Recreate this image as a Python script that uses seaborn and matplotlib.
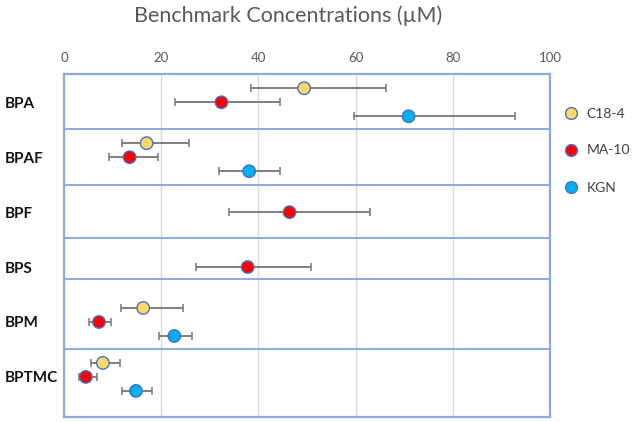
import numpy as np
import pandas as pd
import matplotlib
matplotlib.use("Agg")
import matplotlib.pyplot as plt
from matplotlib.lines import Line2D
import seaborn as sns

sns.set_style("white")
plt.rcParams["font.family"] = ["Lato", "DejaVu Sans"]

compounds = ["BPA", "BPAF", "BPF", "BPS", "BPM", "BPTMC"]
cells = ["C18-4", "MA-10", "KGN"]

# benchmark concentration (uM) with lower / upper bounds, None = not tested
c18_mid = [49.4, 17.0, None, None, 16.3, 8.0]
c18_lo = [38.4, 11.9, None, None, 11.7, 5.6]
c18_hi = [66.3, 25.7, None, None, 24.4, 11.6]
ma10_mid = [32.4, 13.5, 46.4, 37.8, 7.2, 4.5]
ma10_lo = [22.8, 9.2, 34.0, 27.1, 5.1, 3.0]
ma10_hi = [44.4, 19.3, 62.9, 50.9, 9.7, 6.8]
kgn_mid = [70.9, 38.1, None, None, 22.7, 14.8]
kgn_lo = [59.7, 31.8, None, None, 19.5, 12.0]
kgn_hi = [92.9, 44.4, None, None, 26.4, 18.1]

colors = {"C18-4": "#FFD966", "MA-10": "#FF0000", "KGN": "#00B0F0"}
offsets = {"C18-4": -0.255, "MA-10": 0.0, "KGN": 0.255}

rows = []
for cell, mid, lo, hi in [("C18-4", c18_mid, c18_lo, c18_hi),
                          ("MA-10", ma10_mid, ma10_lo, ma10_hi),
                          ("KGN", kgn_mid, kgn_lo, kgn_hi)]:
    for i, comp in enumerate(compounds):
        if mid[i] is None:
            continue
        rows.append({"compound": comp, "cell": cell, "bmc": mid[i], "lo": lo[i], "hi": hi[i],
                     "ypos": i + offsets[cell]})
df = pd.DataFrame(rows)

fig = plt.figure(figsize=(6.33, 4.22), dpi=100)
ax = fig.add_axes([64 / 633, 1 - 417 / 422, (550 - 64) / 633, (417 - 74) / 422])

edge = "#4472C4"
frame = "#8EA9DB"

ax.errorbar(df["bmc"], df["ypos"], xerr=[df["bmc"] - df["lo"], df["hi"] - df["bmc"]],
            fmt="none", ecolor="#7F7F7F", elinewidth=1.4, capsize=3, capthick=1.2, zorder=2)
sns.scatterplot(data=df, x="bmc", y="ypos", hue="cell", hue_order=cells, palette=colors,
                s=80, edgecolor=edge, linewidth=1.0, legend=False, zorder=3, ax=ax)

ax.set_xlim(0, 100)
ax.set_ylim(5.73, -0.515)
ax.set_xticks([0, 20, 40, 60, 80, 100])
ax.xaxis.tick_top()
ax.tick_params(axis="x", length=0, pad=7.5, labelsize=9.5, labelcolor="#595959")
ax.set_yticks(range(len(compounds)))
ax.set_yticklabels(compounds, fontweight="bold", fontsize=11, color="#111111")
for lab in ax.get_yticklabels():
    lab.set_horizontalalignment("left")
ax.tick_params(axis="y", length=0, pad=43)
ax.set_xlabel("")
ax.set_ylabel("")

ax.grid(axis="x", color="#D9D9D9", linewidth=1.0)
ax.set_axisbelow(True)
ax.hlines([0.48, 1.5, 2.48, 3.22, 4.5], 0, 100, color=frame, linewidth=1.4, zorder=1)
for s in ax.spines.values():
    s.set_visible(True)
    s.set_color(frame)
    s.set_linewidth(1.6)

fig.text(288 / 633, 1 - 16 / 422, "Benchmark Concentrations (\u00b5M)", ha="center", va="center",
         fontsize=15.5, color="#595959")

handles = [Line2D([], [], marker="o", linestyle="none", markersize=8.5, markerfacecolor=colors[c],
                  markeredgecolor=edge, markeredgewidth=1.0) for c in cells]
fig.legend(handles, cells, loc="upper left", bbox_to_anchor=(552 / 633, 1 - 95 / 422), frameon=False,
           fontsize=10, labelspacing=1.8, handlelength=1.0, handletextpad=0.6, labelcolor="#404040")

fig.savefig("out.png", dpi=100)
